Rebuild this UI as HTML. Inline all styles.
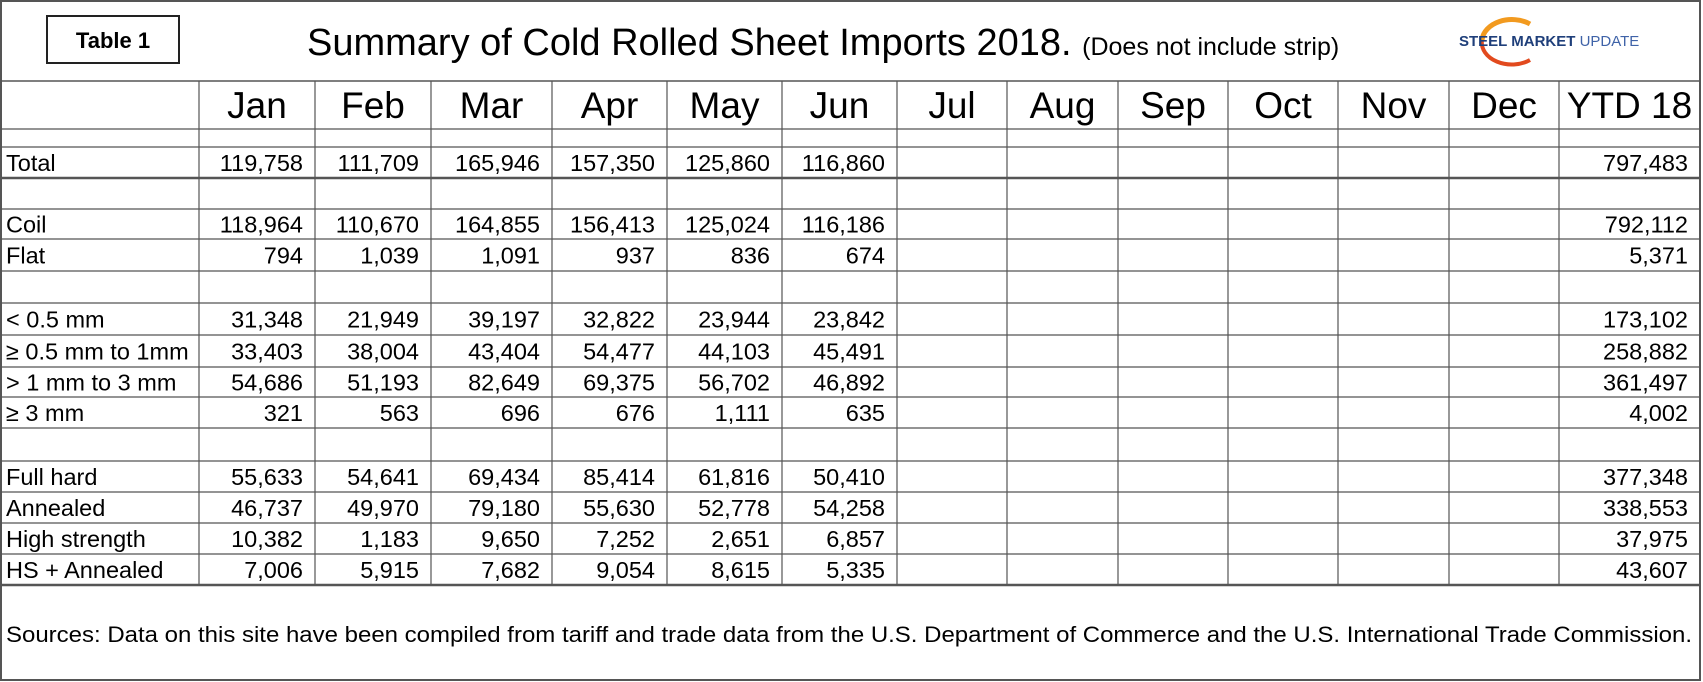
<!DOCTYPE html>
<html><head><meta charset="utf-8"><style>
html,body{margin:0;padding:0;background:#fff;}
svg{display:block;font-family:"Liberation Sans",Arial,sans-serif;}
</style></head><body>
<svg id="t" width="1703" height="682" viewBox="0 0 1703 682">
<rect x="1" y="1" width="1699" height="679" fill="#fff" stroke="#555" stroke-width="2"/>
<rect x="47" y="16" width="132" height="47" fill="#fff" stroke="#222" stroke-width="2"/>
<text x="113" y="48" font-size="22" font-weight="bold" text-anchor="middle">Table 1</text>
<text x="307" y="55" font-size="38">Summary of Cold Rolled Sheet Imports 2018. <tspan font-size="25">(Does not include strip)</tspan></text>
<g>
<path d="M1530 24 A30 22 0 0 0 1482 40" fill="none" stroke="#f29a1f" stroke-width="5"/>
<path d="M1482 40 A30 22 0 0 0 1530 60" fill="none" stroke="#e24a1e" stroke-width="4"/>
<text x="1459" y="46" font-size="15" font-weight="bold" fill="#1f3f7a">STEEL MARKET <tspan font-weight="normal" fill="#3f63a8">UPDATE</tspan></text>
</g>
<g id="grid"></g>
<g id="cells"></g>
<text x="6" y="642" font-size="22" textLength="1686" lengthAdjust="spacingAndGlyphs">Sources: Data on this site have been compiled from tariff and trade data from the U.S. Department of Commerce and the U.S. International Trade Commission.</text>
</svg>
<script>
const months = ["Jan","Feb","Mar","Apr","May","Jun","Jul","Aug","Sep","Oct","Nov","Dec","YTD 18"];
const rowLabels = ["","Total","","Coil","Flat","","< 0.5 mm","≥ 0.5 mm to 1mm","> 1 mm to 3 mm","≥ 3 mm","","Full hard","Annealed","High strength","HS + Annealed"];
const janVals = ["","119,758","","118,964","794","","31,348","33,403","54,686","321","","55,633","46,737","10,382","7,006"];
const febVals = ["","111,709","","110,670","1,039","","21,949","38,004","51,193","563","","54,641","49,970","1,183","5,915"];
const marVals = ["","165,946","","164,855","1,091","","39,197","43,404","82,649","696","","69,434","79,180","9,650","7,682"];
const aprVals = ["","157,350","","156,413","937","","32,822","54,477","69,375","676","","85,414","55,630","7,252","9,054"];
const mayVals = ["","125,860","","125,024","836","","23,944","44,103","56,702","1,111","","61,816","52,778","2,651","8,615"];
const junVals = ["","116,860","","116,186","674","","23,842","45,491","46,892","635","","50,410","54,258","6,857","5,335"];
const ytdVals = ["","797,483","","792,112","5,371","","173,102","258,882","361,497","4,002","","377,348","338,553","37,975","43,607"];
const colX = [1,199,315,431,552,667,782,897,1007,1118,1228,1338,1449,1559,1700];
const rowY = [129,147,178,209,239,271,303,335,367,397,428,461,492,523,554,585];
const NS="http://www.w3.org/2000/svg";
const grid=document.getElementById('grid'), cells=document.getElementById('cells');
function line(x1,y1,x2,y2,w){const l=document.createElementNS(NS,'line');l.setAttribute('x1',x1);l.setAttribute('y1',y1);l.setAttribute('x2',x2);l.setAttribute('y2',y2);l.setAttribute('stroke','#555');l.setAttribute('stroke-width',w);


grid.appendChild(l);}
line(1,81,1700,81,1.5);
rowY.forEach((y)=>line(1,y,1700,y,(y===178||y===585)?2.5:1.2));
for(let i=1;i<colX.length-1;i++) line(colX[i],81,colX[i],585,1.2);
function txt(x,y,s,size,anchor,name){const t=document.createElementNS(NS,'text');t.setAttribute('x',x);t.setAttribute('y',y);t.setAttribute('font-size',size);t.setAttribute('text-anchor',anchor);t.textContent=s;


cells.appendChild(t);}
months.forEach((m,i)=>txt((colX[i+1]+colX[i+2])/2,118,m,37,'middle','column-header'));
const cols=[janVals,febVals,marVals,aprVals,mayVals,junVals];
rowLabels.forEach((lab,r)=>{
  const y=(rowY[r]+rowY[r+1])/2+8.5;
  if(lab) txt(6,y,lab,23.5,'start','row-label');
  cols.forEach((c,ci)=>{if(c[r]) txt(colX[ci+2]-12,y,c[r],23.5,'end','data-cell');});
  if(ytdVals[r]) txt(1688,y,ytdVals[r],23.5,'end','ytd-cell');
});
</script>
</body></html>
